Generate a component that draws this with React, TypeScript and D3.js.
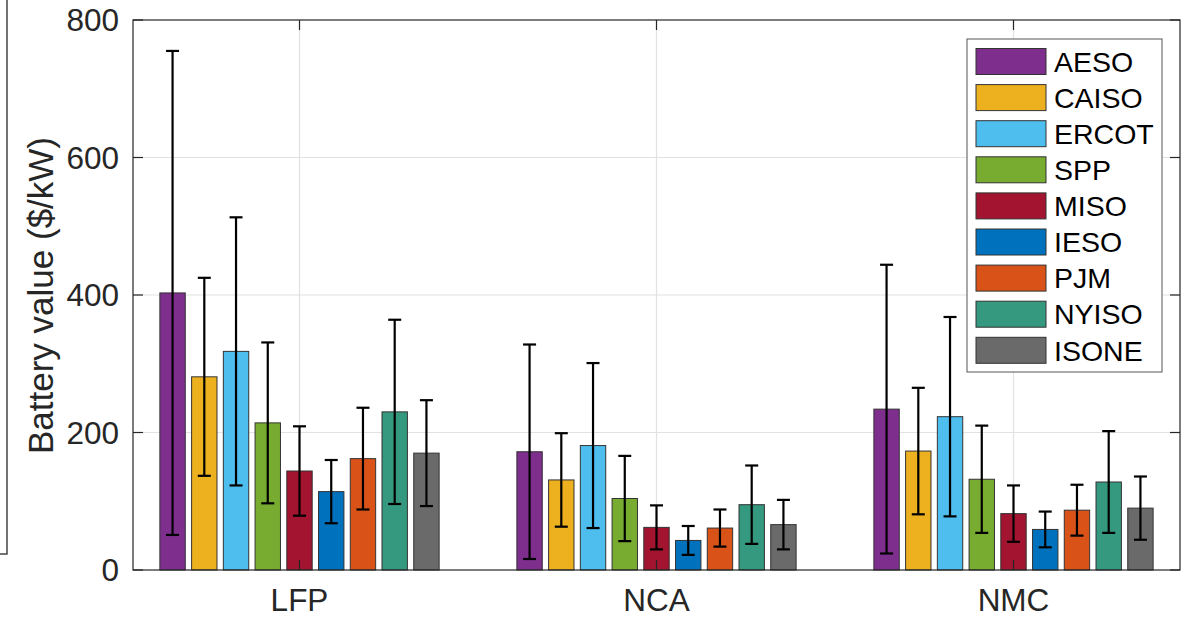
import React from "react";
import * as d3 from "d3";

// Battery chemistries (x categories) and markets (series)
const categories = ["LFP", "NCA", "NMC"];
const markets = ["AESO", "CAISO", "ERCOT", "SPP", "MISO", "IESO", "PJM", "NYISO", "ISONE"];
const marketColors = ["#7E2F8E", "#EDB120", "#4DBEEE", "#77AC30", "#A2142F", "#0072BD", "#D95319", "#35997F", "#6A6A6A"];

// Mean battery value ($/kW) and symmetric error half-widths, per market
const lfpValue = [403, 281, 318, 214, 144, 114, 162, 230, 170];
const lfpError = [352, 144, 195, 117, 65, 46, 74, 134, 77];
const ncaValue = [172, 131, 181, 104, 62, 43, 61, 95, 66];
const ncaError = [156, 68, 120, 62, 32, 21, 27, 57, 36];
const nmcValue = [234, 173, 223, 132, 82, 59, 87, 128, 90];
const nmcError = [210, 92, 145, 78, 41, 26, 37, 74, 46];

const yTicks = [0, 200, 400, 600, 800];

const values = [lfpValue, ncaValue, nmcValue];
const errors = [lfpError, ncaError, nmcError];

const W = 1183;
const H = 619;
const left = 133;
const right = 1180;
const top = 20;
const bottom = 570;
const font = "'Liberation Sans', Arial, Helvetica, sans-serif";
const axisColor = "#262626";

export default function App() {
  const half = (right - left) / 2 / 357;
  const x = d3.scaleLinear().domain([2 - half, 2 + half]).range([left, right]);
  const y = d3.scaleLinear().domain([0, 800]).range([bottom, top]);

  const n = markets.length;
  const groupWidth = 0.8;
  const pitch = groupWidth / n;
  const barW = pitch * 0.8;
  const capHalf = 6.5;
  const tickLen = 10;

  const catX = (c: number) => x(c + 1);
  const barCenter = (c: number, i: number) => x(c + 1 + (i - (n - 1) / 2) * pitch);
  const barPx = x(barW) - x(0);

  const legX = 967;
  const legY = 39;
  const legW = 195;
  const legH = 333;
  const rowPitch = 36.1;

  return (
    <svg width={W} height={H} style={{ position: "absolute", left: 0, top: 0, background: "#fff" }}>
      {/* fragment of neighbouring panel frame */}
      <path d={`M7,0 V554 H0`} fill="none" stroke="#444" strokeWidth={1.5} />

      {/* grid */}
      <g stroke="#E2E2E2" strokeWidth={1.2}>
        {yTicks.slice(1, -1).map((t) => (
          <line key={`gy${t}`} x1={left} x2={right} y1={y(t)} y2={y(t)} />
        ))}
        {categories.map((c, i) => (
          <line key={`gx${c}`} x1={catX(i)} x2={catX(i)} y1={top} y2={bottom} />
        ))}
      </g>

      {/* bars */}
      {categories.map((c, ci) => (
        <g key={`bars${c}`}>
          {markets.map((m, i) => (
            <rect
              key={m}
              x={barCenter(ci, i) - barPx / 2}
              y={y(values[ci][i])}
              width={barPx}
              height={y(0) - y(values[ci][i])}
              fill={marketColors[i]}
              stroke="#333"
              strokeWidth={1}
            />
          ))}
        </g>
      ))}

      {/* error bars */}
      {categories.map((c, ci) => (
        <g key={`err${c}`} stroke="#000" strokeWidth={2.2}>
          {markets.map((m, i) => {
            const cx = barCenter(ci, i);
            const hi = y(values[ci][i] + errors[ci][i]);
            const lo = y(values[ci][i] - errors[ci][i]);
            return (
              <g key={m}>
                <line x1={cx} x2={cx} y1={hi} y2={lo} />
                <line x1={cx - capHalf} x2={cx + capHalf} y1={hi} y2={hi} />
                <line x1={cx - capHalf} x2={cx + capHalf} y1={lo} y2={lo} />
              </g>
            );
          })}
        </g>
      ))}

      {/* axes box and ticks */}
      <g stroke={axisColor} strokeWidth={1.2} fill="none">
        <rect x={left} y={top} width={right - left} height={bottom - top} />
        {yTicks.map((t) => (
          <g key={`ty${t}`}>
            <line x1={left} x2={left + tickLen} y1={y(t)} y2={y(t)} />
            <line x1={right} x2={right - tickLen} y1={y(t)} y2={y(t)} />
          </g>
        ))}
        {categories.map((c, i) => (
          <g key={`tx${c}`}>
            <line x1={catX(i)} x2={catX(i)} y1={bottom} y2={bottom - tickLen} />
            <line x1={catX(i)} x2={catX(i)} y1={top} y2={top + tickLen} />
          </g>
        ))}
      </g>

      {/* tick labels */}
      <g fontFamily={font} fontSize={31.5} fill={axisColor}>
        {yTicks.map((t) => (
          <text key={`ly${t}`} x={left - 14} y={y(t)} dy="0.36em" textAnchor="end">
            {t}
          </text>
        ))}
        {categories.map((c, i) => (
          <text key={`lx${c}`} x={catX(i)} y={bottom + 30} dy="0.36em" textAnchor="middle">
            {c}
          </text>
        ))}
      </g>

      {/* y axis label */}
      <text
        transform={`translate(40,${(133 + 458) / 2}) rotate(-90)`}
        textAnchor="middle"
        dy="0.36em"
        fontFamily={font}
        fontSize={35}
        fill={axisColor}
      >
        Battery value ($/kW)
      </text>

      {/* legend */}
      <g>
        <rect x={legX} y={legY} width={legW} height={legH} fill="#fff" stroke="#555" strokeWidth={1} />
        {markets.map((m, i) => (
          <g key={`leg${m}`}>
            <rect
              x={976}
              y={48.5 + i * rowPitch}
              width={70}
              height={26}
              fill={marketColors[i]}
              stroke="#333"
              strokeWidth={1}
            />
            <text
              x={1054}
              y={61.5 + i * rowPitch}
              dy="0.36em"
              fontFamily={font}
              fontSize={28.5}
              fill="#000"
            >
              {m}
            </text>
          </g>
        ))}
      </g>
    </svg>
  );
}
